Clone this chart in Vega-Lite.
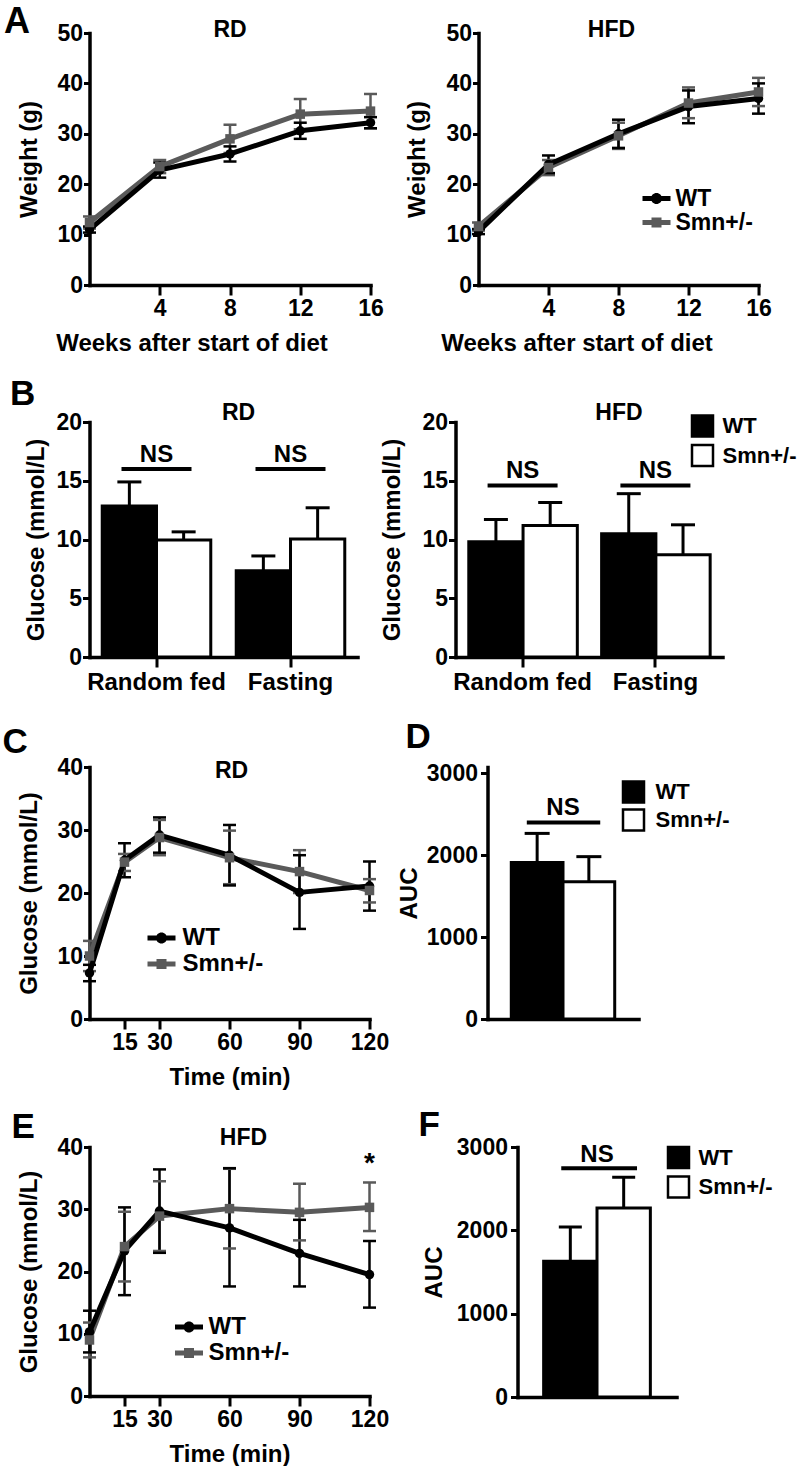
{
  "$schema": "https://vega.github.io/schema/vega-lite/v6.json",
  "background": "white",
  "padding": {"left": 1.5, "top": 3, "right": 0, "bottom": 0},
  "autosize": {"type": "pad"},
  "config": {
    "font": "Liberation Sans",
    "view": {"stroke": null},
    "axis": {"grid": false, "domainColor": "black", "domainWidth": 3.5, "domainCap": "square", "tickColor": "black", "tickWidth": 3, "labelFont": "Liberation Sans", "labelFontWeight": "bold", "labelFontSize": 23, "labelColor": "black", "labelFlush": false, "labelOverlap": false, "titleFont": "Liberation Sans", "titleFontWeight": "bold", "titleFontSize": 24, "titleColor": "black"},
    "title": {"font": "Liberation Sans", "fontWeight": "bold", "fontSize": 23, "color": "black"},
    "legend": {"labelFont": "Liberation Sans", "labelFontWeight": "bold", "labelColor": "black", "padding": 0}
  },
  "datasets": {
    "A_RD": [
      {"t": 0, "g": "Smn+/-", "mean": 12.4, "lo": 11.2, "hi": 13.6},
      {"t": 4, "g": "Smn+/-", "mean": 23.5, "lo": 22.2, "hi": 24.8},
      {"t": 8, "g": "Smn+/-", "mean": 29.0, "lo": 26.2, "hi": 31.8},
      {"t": 12, "g": "Smn+/-", "mean": 33.9, "lo": 30.9, "hi": 36.9},
      {"t": 16, "g": "Smn+/-", "mean": 34.5, "lo": 31.1, "hi": 37.9},
      {"t": 0, "g": "WT", "mean": 11.0, "lo": 10.4, "hi": 11.6},
      {"t": 4, "g": "WT", "mean": 22.8, "lo": 21.3, "hi": 24.3},
      {"t": 8, "g": "WT", "mean": 26.0, "lo": 24.5, "hi": 27.5},
      {"t": 12, "g": "WT", "mean": 30.6, "lo": 29.0, "hi": 32.2},
      {"t": 16, "g": "WT", "mean": 32.2, "lo": 31.1, "hi": 33.3}
    ],
    "A_HFD": [
      {"t": 0, "g": "Smn+/-", "mean": 11.6, "lo": 10.8, "hi": 12.4},
      {"t": 4, "g": "Smn+/-", "mean": 23.3, "lo": 21.8, "hi": 24.8},
      {"t": 8, "g": "Smn+/-", "mean": 29.6, "lo": 27.0, "hi": 32.2},
      {"t": 12, "g": "Smn+/-", "mean": 36.1, "lo": 33.1, "hi": 39.2},
      {"t": 16, "g": "Smn+/-", "mean": 38.3, "lo": 35.5, "hi": 41.1},
      {"t": 0, "g": "WT", "mean": 10.6, "lo": 10.1, "hi": 11.1},
      {"t": 4, "g": "WT", "mean": 23.9, "lo": 22.2, "hi": 25.7},
      {"t": 8, "g": "WT", "mean": 30.0, "lo": 27.2, "hi": 32.8},
      {"t": 12, "g": "WT", "mean": 35.4, "lo": 32.1, "hi": 38.6},
      {"t": 16, "g": "WT", "mean": 37.0, "lo": 34.0, "hi": 40.0}
    ],
    "B_RD": [
      {"cond": "Random fed", "g": "WT", "mean": 12.85, "hi": 14.9},
      {"cond": "Random fed", "g": "Smn+/-", "mean": 9.96, "hi": 10.65},
      {"cond": "Fasting", "g": "WT", "mean": 7.35, "hi": 8.6},
      {"cond": "Fasting", "g": "Smn+/-", "mean": 10.05, "hi": 12.7}
    ],
    "B_HFD": [
      {"cond": "Random fed", "g": "WT", "mean": 9.8, "hi": 11.7},
      {"cond": "Random fed", "g": "Smn+/-", "mean": 11.2, "hi": 13.15},
      {"cond": "Fasting", "g": "WT", "mean": 10.5, "hi": 13.9},
      {"cond": "Fasting", "g": "Smn+/-", "mean": 8.7, "hi": 11.25}
    ],
    "B_ns": [
      {"cond": "Random fed", "label": "NS"},
      {"cond": "Fasting", "label": "NS"}
    ],
    "C_RD": [
      {"t": 0, "g": "Smn+/-", "mean": 10.0, "lo": 7.6, "hi": 12.4},
      {"t": 15, "g": "Smn+/-", "mean": 24.9, "lo": 23.5, "hi": 26.2},
      {"t": 30, "g": "Smn+/-", "mean": 28.8, "lo": 26.0, "hi": 31.6},
      {"t": 60, "g": "Smn+/-", "mean": 25.6, "lo": 21.4, "hi": 29.9},
      {"t": 90, "g": "Smn+/-", "mean": 23.4, "lo": 20.0, "hi": 26.8},
      {"t": 120, "g": "Smn+/-", "mean": 20.4, "lo": 18.5, "hi": 22.2},
      {"t": 0, "g": "WT", "mean": 7.3, "lo": 6.0, "hi": 8.6},
      {"t": 15, "g": "WT", "mean": 25.2, "lo": 22.5, "hi": 27.9},
      {"t": 30, "g": "WT", "mean": 29.2, "lo": 26.4, "hi": 32.0},
      {"t": 60, "g": "WT", "mean": 26.0, "lo": 21.2, "hi": 30.8},
      {"t": 90, "g": "WT", "mean": 20.1, "lo": 14.3, "hi": 26.0},
      {"t": 120, "g": "WT", "mean": 21.1, "lo": 17.2, "hi": 25.0}
    ],
    "E_HFD": [
      {"t": 0, "g": "Smn+/-", "mean": 9.0, "lo": 6.2, "hi": 11.8},
      {"t": 15, "g": "Smn+/-", "mean": 24.0, "lo": 18.4, "hi": 29.6},
      {"t": 30, "g": "Smn+/-", "mean": 28.9, "lo": 23.3, "hi": 34.5},
      {"t": 60, "g": "Smn+/-", "mean": 30.1, "lo": 23.7, "hi": 36.5},
      {"t": 90, "g": "Smn+/-", "mean": 29.5, "lo": 25.0, "hi": 34.1},
      {"t": 120, "g": "Smn+/-", "mean": 30.3, "lo": 26.5, "hi": 34.3},
      {"t": 0, "g": "WT", "mean": 10.3, "lo": 7.0, "hi": 13.7},
      {"t": 15, "g": "WT", "mean": 23.3, "lo": 16.2, "hi": 30.3},
      {"t": 30, "g": "WT", "mean": 29.7, "lo": 23.0, "hi": 36.4},
      {"t": 60, "g": "WT", "mean": 27.0, "lo": 17.6, "hi": 36.6},
      {"t": 90, "g": "WT", "mean": 22.9, "lo": 17.6, "hi": 28.3},
      {"t": 120, "g": "WT", "mean": 19.5, "lo": 14.2, "hi": 24.9}
    ],
    "E_star": [{"t": 120, "label": "*"}],
    "D_AUC": [
      {"g": "WT", "mean": 1913, "hi": 2267},
      {"g": "Smn+/-", "mean": 1677, "hi": 1983}
    ],
    "F_AUC": [
      {"g": "WT", "mean": 1630, "hi": 2041},
      {"g": "Smn+/-", "mean": 2269, "hi": 2637}
    ],
    "AUC_ns": [{"a": "WT", "b": "Smn+/-", "label": "NS"}]
  },
  "spacing": 26,
  "resolve": {"scale": {"color": "independent", "fill": "independent", "shape": "independent"}, "legend": {"color": "independent", "fill": "independent", "shape": "independent"}},
  "vconcat": [
    {
      "spacing": 21,
      "resolve": {"scale": {"color": "independent", "fill": "independent", "shape": "independent"}, "legend": {"color": "independent", "fill": "independent", "shape": "independent"}},
      "vconcat": [
        {
          "title": {"text": "A", "anchor": "start", "frame": "bounds", "fontSize": 36, "baseline": "alphabetic", "offset": -49.4, "dx": -13.5},
          "bounds": "flush",
          "spacing": 108,
          "resolve": {"scale": {"color": "independent", "fill": "independent", "shape": "independent"}, "legend": {"color": "independent", "fill": "independent", "shape": "independent"}},
          "hconcat": [
            {
              "width": 281, "height": 252,
              "title": {"text": "RD", "frame": "group", "anchor": "middle", "baseline": "alphabetic", "offset": -38.4, "dx": 0},
              "data": {"name": "A_RD"},
              "encoding": {
                "x": {"field": "t", "type": "quantitative", "scale": {"domain": [0, 16], "nice": false}, "axis": {"values": [4, 8, 12, 16], "tickSize": 10, "labelPadding": 2, "title": "Weeks after start of diet", "titleX": 102, "titleY": 58, "titleBaseline": "middle"}},
                "color": {"field": "g", "type": "nominal", "scale": {"domain": ["WT", "Smn+/-"], "range": ["black", "#5a5a5a"]}, "legend": null}
              },
              "layer": [
                {"mark": {"type": "rule", "strokeWidth": 2.5}, "encoding": {"y": {"field": "lo", "type": "quantitative", "title": "Weight (g)", "scale": {"domain": [0, 50], "nice": false}, "axis": {"values": [0, 10, 20, 30, 40, 50], "tickSize": 6, "labelPadding": 1, "titleX": -60, "titleBaseline": "middle"}}, "y2": {"field": "hi"}}},
                {"mark": {"type": "tick", "orient": "horizontal", "size": 13, "thickness": 2.5, "opacity": 1}, "encoding": {"y": {"field": "lo", "type": "quantitative", "title": "Weight (g)", "scale": {"domain": [0, 50], "nice": false}}}},
                {"mark": {"type": "tick", "orient": "horizontal", "size": 13, "thickness": 2.5, "opacity": 1}, "encoding": {"y": {"field": "hi", "type": "quantitative", "title": "Weight (g)", "scale": {"domain": [0, 50], "nice": false}}}},
                {"mark": {"type": "line", "strokeWidth": 5, "strokeJoin": "round"}, "encoding": {"y": {"field": "mean", "type": "quantitative", "title": "Weight (g)", "scale": {"domain": [0, 50], "nice": false}}}},
                {"transform": [{"filter": "datum.g === 'WT'"}], "mark": {"type": "point", "shape": "circle", "filled": true, "size": 90, "opacity": 1}, "encoding": {"y": {"field": "mean", "type": "quantitative", "title": "Weight (g)", "scale": {"domain": [0, 50], "nice": false}}}},
                {"transform": [{"filter": "datum.g === 'Smn+/-'"}], "mark": {"type": "point", "shape": "square", "filled": true, "size": 90, "opacity": 1}, "encoding": {"y": {"field": "mean", "type": "quantitative", "title": "Weight (g)", "scale": {"domain": [0, 50], "nice": false}}}}
              ]
            },
            {
              "width": 280, "height": 252,
              "title": {"text": "HFD", "frame": "group", "anchor": "middle", "baseline": "alphabetic", "offset": -38.4, "dx": -7},
              "data": {"name": "A_HFD"},
              "encoding": {
                "x": {"field": "t", "type": "quantitative", "scale": {"domain": [0, 16], "nice": false}, "axis": {"values": [4, 8, 12, 16], "tickSize": 10, "labelPadding": 2, "title": "Weeks after start of diet", "titleX": 98, "titleY": 58, "titleBaseline": "middle"}},
                "color": {"field": "g", "type": "nominal", "scale": {"domain": ["WT", "Smn+/-"], "range": ["black", "#5a5a5a"]},
                  "legend": {"orient": "none", "legendX": 166.5, "legendY": 154, "title": null, "symbolSize": 400, "symbolOpacity": 1, "symbolStrokeWidth": 0, "labelFontSize": 23, "labelOffset": 7.5, "rowPadding": -2}}
              },
              "layer": [
                {"mark": {"type": "rule", "strokeWidth": 2.5}, "encoding": {"y": {"field": "lo", "type": "quantitative", "title": "Weight (g)", "scale": {"domain": [0, 50], "nice": false}, "axis": {"values": [0, 10, 20, 30, 40, 50], "tickSize": 6, "labelPadding": 1, "titleX": -61, "titleBaseline": "middle"}}, "y2": {"field": "hi"}}},
                {"mark": {"type": "tick", "orient": "horizontal", "size": 13, "thickness": 2.5, "opacity": 1}, "encoding": {"y": {"field": "lo", "type": "quantitative", "title": "Weight (g)", "scale": {"domain": [0, 50], "nice": false}}}},
                {"mark": {"type": "tick", "orient": "horizontal", "size": 13, "thickness": 2.5, "opacity": 1}, "encoding": {"y": {"field": "hi", "type": "quantitative", "title": "Weight (g)", "scale": {"domain": [0, 50], "nice": false}}}},
                {"mark": {"type": "line", "strokeWidth": 5, "strokeJoin": "round"}, "encoding": {"y": {"field": "mean", "type": "quantitative", "title": "Weight (g)", "scale": {"domain": [0, 50], "nice": false}}}},
                {"transform": [{"filter": "datum.g === 'WT'"}], "mark": {"type": "point", "shape": "circle", "filled": true, "size": 90, "opacity": 1}, "encoding": {"y": {"field": "mean", "type": "quantitative", "title": "Weight (g)", "scale": {"domain": [0, 50], "nice": false}}}},
                {"transform": [{"filter": "datum.g === 'Smn+/-'"}], "mark": {"type": "point", "shape": "square", "filled": true, "size": 90, "opacity": 1}, "encoding": {"y": {"field": "mean", "type": "quantitative", "title": "Weight (g)", "scale": {"domain": [0, 50], "nice": false}}}},
                {"mark": {"type": "point", "filled": true, "opacity": 0}, "encoding": {"y": {"field": "mean", "type": "quantitative", "title": "Weight (g)", "scale": {"domain": [0, 50], "nice": false}}, "shape": {"field": "g", "type": "nominal", "scale": {"domain": ["WT", "Smn+/-"], "range": ["M-1.4,-0.25H1.4V0.25H-1.4Z M0.55,0A0.55,0.55,0,1,1,-0.55,0A0.55,0.55,0,1,1,0.55,0Z", "M-1.4,-0.25H1.4V0.25H-1.4Z M-0.5,-0.5H0.5V0.5H-0.5Z"]}, "legend": null}}}
              ]
            }
          ]
        },
        {
          "title": {"text": "B", "anchor": "start", "frame": "bounds", "fontSize": 35, "baseline": "alphabetic", "offset": -37.5, "dx": -14},
          "bounds": "flush",
          "spacing": 98,
          "resolve": {"scale": {"color": "independent", "fill": "independent", "shape": "independent"}, "legend": {"color": "independent", "fill": "independent", "shape": "independent"}},
          "hconcat": [
            {
              "width": 268, "height": 235,
              "title": {"text": "RD", "frame": "group", "anchor": "middle", "baseline": "alphabetic", "offset": -32.4, "dx": 15},
              "encoding": {"x": {"field": "cond", "type": "nominal", "sort": ["Random fed", "Fasting"], "scale": {"domain": ["Random fed", "Fasting"], "paddingInner": 0.19, "paddingOuter": 0.095}, "axis": {"title": null, "labelAngle": 0, "tickSize": 10, "labelPadding": 3, "labelFontSize": 24}}},
              "layer": [
                {"data": {"name": "B_RD"}, "mark": {"type": "bar", "stroke": "black", "strokeWidth": 3}, "encoding": {"xOffset": {"field": "g", "type": "nominal", "sort": ["WT", "Smn+/-"], "scale": {"domain": ["WT", "Smn+/-"], "paddingInner": 0, "paddingOuter": 0}}, "y": {"field": "mean", "type": "quantitative", "title": "Glucose (mmol/L)", "scale": {"domain": [0, 20], "nice": false}, "axis": {"values": [0, 5, 10, 15, 20], "tickSize": 7, "labelPadding": 1, "titleX": -53.5, "titleBaseline": "middle"}}, "fill": {"field": "g", "type": "nominal", "scale": {"domain": ["WT", "Smn+/-"], "range": ["black", "white"]}, "legend": null}}},
                {"data": {"name": "B_RD"}, "mark": {"type": "rule", "strokeWidth": 3, "color": "black"}, "encoding": {"xOffset": {"field": "g", "type": "nominal", "sort": ["WT", "Smn+/-"], "scale": {"domain": ["WT", "Smn+/-"], "paddingInner": 0, "paddingOuter": 0}}, "y": {"field": "mean", "type": "quantitative", "title": "Glucose (mmol/L)", "scale": {"domain": [0, 20], "nice": false}}, "y2": {"field": "hi"}}},
                {"data": {"name": "B_RD"}, "mark": {"type": "tick", "orient": "horizontal", "size": 24, "thickness": 3, "color": "black", "opacity": 1}, "encoding": {"xOffset": {"field": "g", "type": "nominal", "sort": ["WT", "Smn+/-"], "scale": {"domain": ["WT", "Smn+/-"], "paddingInner": 0, "paddingOuter": 0}}, "y": {"field": "hi", "type": "quantitative", "title": "Glucose (mmol/L)", "scale": {"domain": [0, 20], "nice": false}}}},
                {"data": {"name": "B_ns"}, "mark": {"type": "tick", "orient": "horizontal", "size": 70, "thickness": 4, "color": "black", "opacity": 1}, "encoding": {"y": {"datum": 16.0, "type": "quantitative"}}},
                {"data": {"name": "B_ns"}, "mark": {"type": "text", "fontSize": 24, "fontWeight": "bold", "baseline": "middle", "color": "black"}, "encoding": {"y": {"datum": 17.2, "type": "quantitative"}, "text": {"field": "label"}}}
              ]
            },
            {
              "width": 267, "height": 235,
              "title": {"text": "HFD", "frame": "group", "anchor": "middle", "baseline": "alphabetic", "offset": -32.4, "dx": 30},
              "encoding": {"x": {"field": "cond", "type": "nominal", "sort": ["Random fed", "Fasting"], "scale": {"domain": ["Random fed", "Fasting"], "paddingInner": 0.19, "paddingOuter": 0.1}, "axis": {"title": null, "labelAngle": 0, "tickSize": 10, "labelPadding": 3, "labelFontSize": 24}}},
              "layer": [
                {"data": {"name": "B_HFD"}, "mark": {"type": "bar", "stroke": "black", "strokeWidth": 3}, "encoding": {"xOffset": {"field": "g", "type": "nominal", "sort": ["WT", "Smn+/-"], "scale": {"domain": ["WT", "Smn+/-"], "paddingInner": 0, "paddingOuter": 0}}, "y": {"field": "mean", "type": "quantitative", "title": "Glucose (mmol/L)", "scale": {"domain": [0, 20], "nice": false}, "axis": {"values": [0, 5, 10, 15, 20], "tickSize": 7, "labelPadding": 1, "titleX": -63, "titleBaseline": "middle"}},
                  "fill": {"field": "g", "type": "nominal", "scale": {"domain": ["WT", "Smn+/-"], "range": ["black", "white"]},
                    "legend": {"orient": "none", "legendX": 235, "legendY": -8, "title": null, "symbolType": "square", "symbolSize": 441, "symbolStrokeColor": "black", "symbolStrokeWidth": 2.5, "labelFontSize": 22, "labelOffset": 8, "rowPadding": -2.5}}}},
                {"data": {"name": "B_HFD"}, "mark": {"type": "rule", "strokeWidth": 3, "color": "black"}, "encoding": {"xOffset": {"field": "g", "type": "nominal", "sort": ["WT", "Smn+/-"], "scale": {"domain": ["WT", "Smn+/-"], "paddingInner": 0, "paddingOuter": 0}}, "y": {"field": "mean", "type": "quantitative", "title": "Glucose (mmol/L)", "scale": {"domain": [0, 20], "nice": false}}, "y2": {"field": "hi"}}},
                {"data": {"name": "B_HFD"}, "mark": {"type": "tick", "orient": "horizontal", "size": 24, "thickness": 3, "color": "black", "opacity": 1}, "encoding": {"xOffset": {"field": "g", "type": "nominal", "sort": ["WT", "Smn+/-"], "scale": {"domain": ["WT", "Smn+/-"], "paddingInner": 0, "paddingOuter": 0}}, "y": {"field": "hi", "type": "quantitative", "title": "Glucose (mmol/L)", "scale": {"domain": [0, 20], "nice": false}}}},
                {"data": {"name": "B_ns"}, "mark": {"type": "tick", "orient": "horizontal", "size": 70, "thickness": 4, "color": "black", "opacity": 1}, "encoding": {"y": {"datum": 14.6, "type": "quantitative"}}},
                {"data": {"name": "B_ns"}, "mark": {"type": "text", "fontSize": 24, "fontWeight": "bold", "baseline": "middle", "color": "black"}, "encoding": {"y": {"datum": 15.8, "type": "quantitative"}, "text": {"field": "label"}}}
              ]
            }
          ]
        }
      ]
    },
    {
      "spacing": 18,
      "resolve": {"scale": {"color": "independent", "fill": "independent", "shape": "independent"}, "legend": {"color": "independent", "fill": "independent", "shape": "independent"}},
      "vconcat": [
        {
          "title": {"text": "C", "anchor": "start", "frame": "bounds", "fontSize": 35, "baseline": "alphabetic", "offset": -67.4, "dx": -15},
          "bounds": "flush",
          "spacing": 118,
          "resolve": {"scale": {"color": "independent", "fill": "independent", "shape": "independent"}, "legend": {"color": "independent", "fill": "independent", "shape": "independent"}},
          "hconcat": [
            {
              "width": 280, "height": 252,
              "title": {"text": "RD", "frame": "group", "anchor": "middle", "baseline": "alphabetic", "offset": -45.4, "dx": 2},
              "data": {"name": "C_RD"},
              "encoding": {
                "x": {"field": "t", "type": "quantitative", "scale": {"domain": [0, 120], "nice": false}, "axis": {"values": [15, 30, 60, 90, 120], "tickSize": 10, "labelPadding": 2, "title": "Time (min)", "titleY": 58, "titleBaseline": "middle"}},
                "color": {"field": "g", "type": "nominal", "scale": {"domain": ["WT", "Smn+/-"], "range": ["black", "#5a5a5a"]},
                  "legend": {"orient": "none", "legendX": 60, "legendY": 159, "title": null, "symbolSize": 400, "symbolOpacity": 1, "symbolStrokeWidth": 0, "labelFontSize": 24, "labelOffset": 9, "rowPadding": 2}}
              },
              "layer": [
                {"mark": {"type": "rule", "strokeWidth": 2.5}, "encoding": {"y": {"field": "lo", "type": "quantitative", "title": "Glucose (mmol/L)", "scale": {"domain": [0, 40], "nice": false}, "axis": {"values": [0, 10, 20, 30, 40], "tickSize": 6, "labelPadding": 1, "titleX": -60, "titleBaseline": "middle"}}, "y2": {"field": "hi"}}},
                {"mark": {"type": "tick", "orient": "horizontal", "size": 13, "thickness": 2.5, "opacity": 1}, "encoding": {"y": {"field": "lo", "type": "quantitative", "title": "Glucose (mmol/L)", "scale": {"domain": [0, 40], "nice": false}}}},
                {"mark": {"type": "tick", "orient": "horizontal", "size": 13, "thickness": 2.5, "opacity": 1}, "encoding": {"y": {"field": "hi", "type": "quantitative", "title": "Glucose (mmol/L)", "scale": {"domain": [0, 40], "nice": false}}}},
                {"mark": {"type": "line", "strokeWidth": 5, "strokeJoin": "round"}, "encoding": {"y": {"field": "mean", "type": "quantitative", "title": "Glucose (mmol/L)", "scale": {"domain": [0, 40], "nice": false}}}},
                {"transform": [{"filter": "datum.g === 'WT'"}], "mark": {"type": "point", "shape": "circle", "filled": true, "size": 90, "opacity": 1}, "encoding": {"y": {"field": "mean", "type": "quantitative", "title": "Glucose (mmol/L)", "scale": {"domain": [0, 40], "nice": false}}}},
                {"transform": [{"filter": "datum.g === 'Smn+/-'"}], "mark": {"type": "point", "shape": "square", "filled": true, "size": 90, "opacity": 1}, "encoding": {"y": {"field": "mean", "type": "quantitative", "title": "Glucose (mmol/L)", "scale": {"domain": [0, 40], "nice": false}}}},
                {"mark": {"type": "point", "filled": true, "opacity": 0}, "encoding": {"y": {"field": "mean", "type": "quantitative", "title": "Glucose (mmol/L)", "scale": {"domain": [0, 40], "nice": false}}, "shape": {"field": "g", "type": "nominal", "scale": {"domain": ["WT", "Smn+/-"], "range": ["M-1.4,-0.25H1.4V0.25H-1.4Z M0.55,0A0.55,0.55,0,1,1,-0.55,0A0.55,0.55,0,1,1,0.55,0Z", "M-1.4,-0.25H1.4V0.25H-1.4Z M-0.5,-0.5H0.5V0.5H-0.5Z"]}, "legend": null}}}
              ]
            },
            {
              "width": 151, "height": 252,
              "title": {"text": "D", "frame": "group", "anchor": "start", "fontSize": 35, "baseline": "alphabetic", "offset": -20.9, "dx": -82},
              "encoding": {"x": {"field": "g", "type": "nominal", "sort": ["WT", "Smn+/-"], "scale": {"domain": ["WT", "Smn+/-"], "paddingInner": 0, "paddingOuter": 0.46}, "axis": {"title": null, "labels": false, "ticks": false}}},
              "layer": [
                {"data": {"name": "D_AUC"}, "mark": {"type": "bar", "stroke": "black", "strokeWidth": 3}, "encoding": {"y": {"field": "mean", "type": "quantitative", "title": "AUC", "scale": {"domain": [0, 3078], "nice": false}, "axis": {"values": [0, 1000, 2000, 3000], "format": "d", "tickSize": 7, "labelPadding": 3, "titleX": -78, "titleBaseline": "middle"}},
                  "fill": {"field": "g", "type": "nominal", "scale": {"domain": ["WT", "Smn+/-"], "range": ["black", "white"]},
                    "legend": {"orient": "none", "legendX": 134, "legendY": 13, "title": null, "symbolType": "square", "symbolSize": 441, "symbolStrokeColor": "black", "symbolStrokeWidth": 2.5, "labelFontSize": 22, "labelOffset": 10, "rowPadding": -4}}}},
                {"data": {"name": "D_AUC"}, "mark": {"type": "rule", "strokeWidth": 3, "color": "black"}, "encoding": {"y": {"field": "mean", "type": "quantitative", "title": "AUC", "scale": {"domain": [0, 3078], "nice": false}}, "y2": {"field": "hi"}}},
                {"data": {"name": "D_AUC"}, "mark": {"type": "tick", "orient": "horizontal", "size": 25, "thickness": 3, "color": "black", "opacity": 1}, "encoding": {"y": {"field": "hi", "type": "quantitative", "title": "AUC", "scale": {"domain": [0, 3078], "nice": false}}}},
                {"data": {"name": "AUC_ns"}, "mark": {"type": "rule", "strokeWidth": 4, "color": "black"}, "encoding": {"x": {"field": "a", "type": "nominal", "bandPosition": 0.3}, "x2": {"field": "b", "bandPosition": 0.72}, "y": {"datum": 2400, "type": "quantitative"}}},
                {"data": {"name": "AUC_ns"}, "mark": {"type": "text", "fontSize": 24, "fontWeight": "bold", "baseline": "middle", "color": "black"}, "encoding": {"x": {"field": "a", "type": "nominal", "bandPosition": 1}, "y": {"datum": 2574, "type": "quantitative"}, "text": {"field": "label"}}}
              ]
            }
          ]
        },
        {
          "title": {"text": "E", "anchor": "start", "frame": "bounds", "fontSize": 35, "baseline": "alphabetic", "offset": -65.4, "dx": -6},
          "bounds": "flush",
          "spacing": 148,
          "resolve": {"scale": {"color": "independent", "fill": "independent", "shape": "independent"}, "legend": {"color": "independent", "fill": "independent", "shape": "independent"}},
          "hconcat": [
            {
              "width": 280, "height": 249,
              "title": {"text": "HFD", "frame": "group", "anchor": "middle", "baseline": "alphabetic", "offset": -32.4, "dx": 14},
              "data": {"name": "E_HFD"},
              "encoding": {
                "x": {"field": "t", "type": "quantitative", "scale": {"domain": [0, 120], "nice": false}, "axis": {"values": [15, 30, 60, 90, 120], "tickSize": 10, "labelPadding": 2, "title": "Time (min)", "titleY": 58, "titleBaseline": "middle"}},
                "color": {"field": "g", "type": "nominal", "scale": {"domain": ["WT", "Smn+/-"], "range": ["black", "#5a5a5a"]},
                  "legend": {"orient": "none", "legendX": 87.5, "legendY": 168, "title": null, "symbolSize": 400, "symbolOpacity": 1, "symbolStrokeWidth": 0, "labelFontSize": 24, "labelOffset": 7.5, "rowPadding": 2}}
              },
              "layer": [
                {"mark": {"type": "rule", "strokeWidth": 2.5}, "encoding": {"y": {"field": "lo", "type": "quantitative", "title": "Glucose (mmol/L)", "scale": {"domain": [0, 40], "nice": false}, "axis": {"values": [0, 10, 20, 30, 40], "tickSize": 6, "labelPadding": 1, "titleX": -60, "titleBaseline": "middle"}}, "y2": {"field": "hi"}}},
                {"mark": {"type": "tick", "orient": "horizontal", "size": 13, "thickness": 2.5, "opacity": 1}, "encoding": {"y": {"field": "lo", "type": "quantitative", "title": "Glucose (mmol/L)", "scale": {"domain": [0, 40], "nice": false}}}},
                {"mark": {"type": "tick", "orient": "horizontal", "size": 13, "thickness": 2.5, "opacity": 1}, "encoding": {"y": {"field": "hi", "type": "quantitative", "title": "Glucose (mmol/L)", "scale": {"domain": [0, 40], "nice": false}}}},
                {"mark": {"type": "line", "strokeWidth": 5, "strokeJoin": "round"}, "encoding": {"y": {"field": "mean", "type": "quantitative", "title": "Glucose (mmol/L)", "scale": {"domain": [0, 40], "nice": false}}}},
                {"transform": [{"filter": "datum.g === 'WT'"}], "mark": {"type": "point", "shape": "circle", "filled": true, "size": 90, "opacity": 1}, "encoding": {"y": {"field": "mean", "type": "quantitative", "title": "Glucose (mmol/L)", "scale": {"domain": [0, 40], "nice": false}}}},
                {"transform": [{"filter": "datum.g === 'Smn+/-'"}], "mark": {"type": "point", "shape": "square", "filled": true, "size": 90, "opacity": 1}, "encoding": {"y": {"field": "mean", "type": "quantitative", "title": "Glucose (mmol/L)", "scale": {"domain": [0, 40], "nice": false}}}},
                {"mark": {"type": "point", "filled": true, "opacity": 0}, "encoding": {"y": {"field": "mean", "type": "quantitative", "title": "Glucose (mmol/L)", "scale": {"domain": [0, 40], "nice": false}}, "shape": {"field": "g", "type": "nominal", "scale": {"domain": ["WT", "Smn+/-"], "range": ["M-1.4,-0.25H1.4V0.25H-1.4Z M0.55,0A0.55,0.55,0,1,1,-0.55,0A0.55,0.55,0,1,1,0.55,0Z", "M-1.4,-0.25H1.4V0.25H-1.4Z M-0.5,-0.5H0.5V0.5H-0.5Z"]}, "legend": null}}},
                {"data": {"name": "E_star"}, "mark": {"type": "text", "fontSize": 28, "fontWeight": "bold", "baseline": "alphabetic", "color": "black"}, "encoding": {"y": {"datum": 36.05, "type": "quantitative"}, "text": {"field": "label"}, "color": {"value": "black"}}}
              ]
            },
            {
              "width": 159, "height": 250,
              "title": {"text": "F", "frame": "group", "anchor": "start", "fontSize": 35, "baseline": "alphabetic", "offset": -34.9, "dx": -99},
              "encoding": {"x": {"field": "g", "type": "nominal", "sort": ["WT", "Smn+/-"], "scale": {"domain": ["WT", "Smn+/-"], "paddingInner": 0, "paddingOuter": 0.49}, "axis": {"title": null, "labels": false, "ticks": false}}},
              "layer": [
                {"data": {"name": "F_AUC"}, "mark": {"type": "bar", "stroke": "black", "strokeWidth": 3}, "encoding": {"y": {"field": "mean", "type": "quantitative", "title": "AUC", "scale": {"domain": [0, 3000], "nice": false}, "axis": {"values": [0, 1000, 2000, 3000], "format": "d", "tickSize": 7, "labelPadding": 3, "titleX": -83, "titleBaseline": "middle"}},
                  "fill": {"field": "g", "type": "nominal", "scale": {"domain": ["WT", "Smn+/-"], "range": ["black", "white"]},
                    "legend": {"orient": "none", "legendX": 149, "legendY": -1.5, "title": null, "symbolType": "square", "symbolSize": 441, "symbolStrokeColor": "black", "symbolStrokeWidth": 2.5, "labelFontSize": 22, "labelOffset": 8, "rowPadding": -2.5}}}},
                {"data": {"name": "F_AUC"}, "mark": {"type": "rule", "strokeWidth": 3, "color": "black"}, "encoding": {"y": {"field": "mean", "type": "quantitative", "title": "AUC", "scale": {"domain": [0, 3000], "nice": false}}, "y2": {"field": "hi"}}},
                {"data": {"name": "F_AUC"}, "mark": {"type": "tick", "orient": "horizontal", "size": 23, "thickness": 3, "color": "black", "opacity": 1}, "encoding": {"y": {"field": "hi", "type": "quantitative", "title": "AUC", "scale": {"domain": [0, 3000], "nice": false}}}},
                {"data": {"name": "AUC_ns"}, "mark": {"type": "rule", "strokeWidth": 4, "color": "black"}, "encoding": {"x": {"field": "a", "type": "nominal", "bandPosition": 0.33}, "x2": {"field": "b", "bandPosition": 0.75}, "y": {"datum": 2745, "type": "quantitative"}}},
                {"data": {"name": "AUC_ns"}, "mark": {"type": "text", "fontSize": 24, "fontWeight": "bold", "baseline": "middle", "color": "black"}, "encoding": {"x": {"field": "a", "type": "nominal", "bandPosition": 1}, "y": {"datum": 2906, "type": "quantitative"}, "text": {"field": "label"}}}
              ]
            }
          ]
        }
      ]
    }
  ]
}
